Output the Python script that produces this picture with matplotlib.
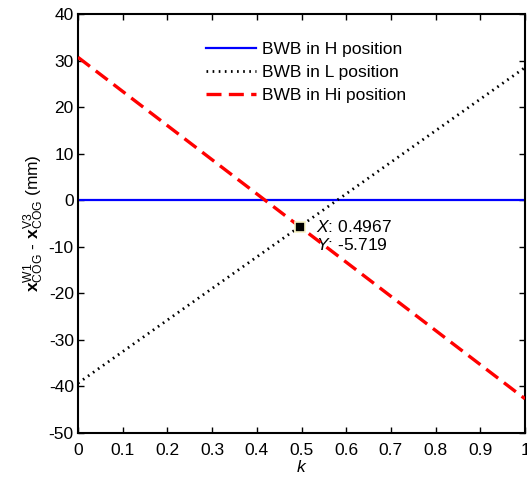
import numpy as np
import matplotlib
matplotlib.use("Agg")
import matplotlib.pyplot as plt

plt.rcParams['font.family'] = ['Liberation Sans', 'DejaVu Sans']
plt.rcParams['mathtext.fontset'] = 'custom'
plt.rcParams['mathtext.rm'] = 'Liberation Sans'
plt.rcParams['mathtext.it'] = 'Liberation Sans:italic'
plt.rcParams['mathtext.bf'] = 'Liberation Sans:bold'
plt.rcParams['axes.unicode_minus'] = False

# lines end points over k in [0, 1]
k = [0.0, 1.0]
h_pos = [0.0, 0.0]
l_pos = [-39.3, 28.5]
hi_pos = [30.7, -42.65]
labels = ["BWB in H position", "BWB in L position", "BWB in Hi position"]

# data tip
tip_x = 0.4967
tip_y = -5.719

fig = plt.figure(figsize=(5.27, 4.79), dpi=100)
ax = fig.add_axes([78 / 527, 1 - 433 / 479, 447 / 527, 419 / 479])

ax.plot(k, h_pos, color="blue", lw=1.6, label=labels[0])
ax.plot(k, l_pos, color="black", lw=2.0, linestyle=(0, (0.6, 1.6)), label=labels[1])
ax.plot(k, hi_pos, color="red", lw=2.4, linestyle=(0, (4.5, 2.2)), label=labels[2], zorder=4)

ax.plot(tip_x, tip_y, marker="s", ms=6.5, color="black", mec="#f7f2c4", mew=1.2, zorder=5)
ax.text(tip_x + 0.035, tip_y, r"$\it{X}$: %.4f" % tip_x, fontsize=12.5, va="center", zorder=3)
ax.text(tip_x + 0.035, tip_y - 3.9, r"$\it{Y}$: %.3f" % tip_y, fontsize=12.5, va="center", zorder=3)

ax.set_xlim(0, 1)
ax.set_ylim(-50, 40)
ax.set_xticks(np.arange(0, 1.01, 0.1))
ax.set_xticklabels(["0", "0.1", "0.2", "0.3", "0.4", "0.5", "0.6", "0.7", "0.8", "0.9", "1"])
ax.set_yticks(np.arange(-50, 41, 10))
ax.tick_params(direction="in", top=True, right=True, labelsize=12.5, length=4, width=1)
ax.tick_params(axis="x", pad=7)
ax.tick_params(axis="y", pad=3)
for sp in ax.spines.values():
   sp.set_linewidth(1.5)

ax.set_xlabel(r"$\it{k}$", fontsize=12.5, labelpad=1)
ax.set_ylabel(r"$\mathbf{x}^{\rm W1}_{\rm COG}$ - $\mathbf{x}^{\rm V3}_{\rm COG}$ (mm)", fontsize=12.5, labelpad=2)

ax.legend(loc="upper center", bbox_to_anchor=(0.51, 0.97), frameon=False, fontsize=12.5,
          handlelength=2.9, handletextpad=0.3, labelspacing=0.45)

fig.savefig("out.png", dpi=100)
